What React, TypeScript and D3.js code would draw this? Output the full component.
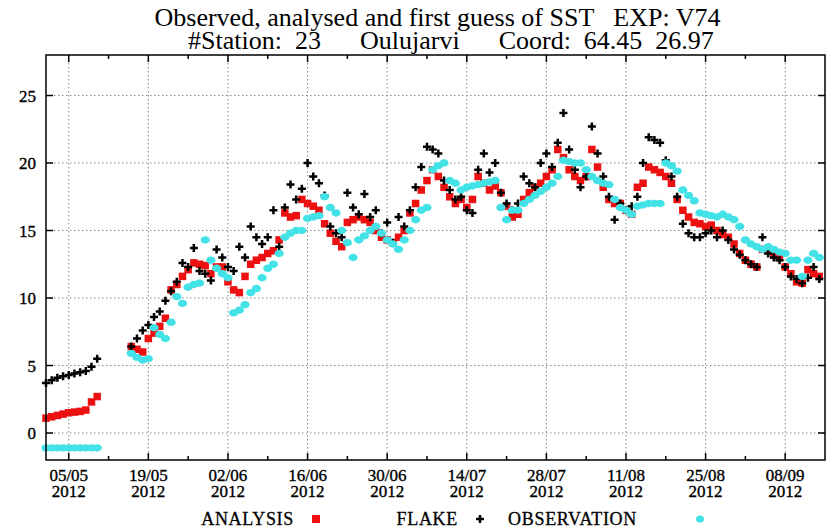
import React from "react";
import * as d3 from "d3";

const START = Date.UTC(2012, 4, 1);
const END = Date.UTC(2012, 8, 15);
const DAY = 86400000;

// values per day, starting 01/05/2012 (null = no data)
const analysis: (number | null)[] = [
  1.1, 1.2, 1.3, 1.4, 1.5, 1.55, 1.6, 1.7, 2.3, 2.7,
  null, null, null, null, null,
  6.4, 6.2, 6.0, 7.0, 7.4, 7.9, 8.5, 10.6, 11.0, 11.6,
  12.1, 12.6, 12.5, 12.4, 11.8, 12.3, 12.3, 11.2, 10.6, 10.4,
  11.6, 12.5, 12.8, 13.0, 13.3, 13.5, 14.3, 16.3, 16.0, 16.1,
  17.3, 17.0, 16.8, 16.5, 15.5, 14.8, 14.2, 13.8, 15.6, 15.8,
  16.0, 15.8, 15.6, 15.0, 14.5, 14.3, 14.1, 14.5, 15.0, 16.3,
  17.0, 18.0, 18.7, 19.5, 19.0, 18.2, 17.5, 17.0, 17.3, 16.7,
  17.3, 19.0, 18.5, 18.0, 18.3, 17.8, 16.8, 16.0, 16.2, 17.3,
  17.8, 18.2, 18.5, 19.0, 19.5, 21.0, 20.4, 19.5, 19.0, 18.7,
  19.0, 21.0, 19.7, 18.2, 17.3, 17.0, 17.0, 16.5, 16.2, 18.2,
  18.5, 19.7, 19.5, 19.3, 19.0, 18.5, 17.3, 16.5, 16.0, 15.6,
  15.5, 15.3, 15.4, 15.0, 14.7, 14.5, 14.0, 13.3, 12.8, 12.5,
  12.3, 13.6, 13.5, 13.2, 13.0, 12.3, 11.8, 11.2, 11.1, 12.1,
  11.8, 11.6,
];

const flake: (number | null)[] = [
  3.7, 3.9, 4.1, 4.2, 4.3, 4.4, 4.5, 4.6, 4.9, 5.5,
  null, null, null, null, null,
  6.4, 7.0, 7.6, 8.0, 8.6, 9.0, 9.8, 10.5, 11.2, 12.6,
  12.3, 13.7, 12.0, 11.8, 11.3, 13.6, 13.0, 12.3, 12.0, 13.8,
  13.0, 15.3, 14.5, 14.0, 14.5, 16.5, 13.8, 16.7, 18.4, 17.3,
  18.1, 20.0, 19.0, 18.5, 17.6, 15.3, 14.8, 14.5, 17.8, 16.7,
  16.2, 17.7, 16.0, 16.5, 14.8, 15.6, 14.1, 16.0, 15.3, 16.5,
  18.2, 19.7, 21.2, 21.0, 20.7, 18.7, 18.0, 17.3, 17.5, 16.5,
  16.3, 19.5, 20.7, 19.3, 20.0, 17.8, 17.0, 16.5, 17.0, 19.0,
  18.5, 18.2, 20.0, 20.7, 19.7, 21.5, 23.7, 21.0, 19.5, 18.2,
  19.0, 22.7, 20.7, 19.0, 17.5, 15.8, 17.0, 16.5, 16.8, 17.5,
  20.0, 21.9, 21.7, 21.5, 20.2, 19.0, 17.5, 15.5, 14.8, 14.5,
  14.5, 14.8, 15.0, 14.5, 15.0, 14.3, 13.6, 13.2, 12.8, 12.5,
  12.3, 14.5, 13.3, 13.0, 12.8, 12.3, 11.6, 11.4, 11.1, 11.5,
  12.3, 11.4,
];

const observation: (number | null)[] = [
  -1.1, -1.1, -1.1, -1.1, -1.1, -1.1, -1.1, -1.1, -1.1, -1.1,
  null, null, null, null, null,
  5.9, 5.6, 5.4, 5.5, 7.8, 7.3, 7.0, 8.2, 10.1, 9.6,
  10.8, 11.0, 11.1, 14.3, 12.8, 12.2, 11.8, 11.5, 8.9, 9.1,
  9.5, 10.4, 10.7, 11.5, 12.2, 12.5, 13.3, 14.5, 14.8, 15.0,
  15.0, 15.9, 16.0, 16.1, 17.5, 16.7, 16.3, 15.0, 14.1, 13.0,
  14.3, 14.6, 15.0, 15.3, 14.8, 14.3, 14.0, 13.6, 14.3, 15.0,
  15.8, 16.5, 16.7, 19.5, 19.8, 20.0, 18.7, 18.5, 18.0, 18.2,
  18.3, 18.4, 18.5, 18.6, 18.7, 16.7, 15.8, 16.5, 16.5, 17.0,
  17.3, 17.6, 17.9, 18.2, 18.5, 19.0, 20.2, 20.1, 20.0, 20.0,
  19.5, 19.0, 18.7, 18.5, 18.4, 17.3, 16.7, 16.5, 16.2, 16.8,
  16.9, 17.0, 17.0, 17.0, 20.0, 19.8, 19.4, 18.0, 17.6, 17.2,
  16.3, 16.2, 16.1, 16.0, 16.2, 16.0, 15.8, 15.3, 14.3, 14.0,
  13.8, 13.6, 13.8, 13.6, 13.4, 13.3, 12.8, 12.8, 11.6, 12.8,
  13.3, 13.0,
];

const yTicks = [0, 5, 10, 15, 20, 25];
const majorTickDates = [
  "2012-05-05", "2012-05-19", "2012-06-02", "2012-06-16", "2012-06-30",
  "2012-07-14", "2012-07-28", "2012-08-11", "2012-08-25", "2012-09-08",
];
const minorTickDates = [
  "2012-05-12", "2012-05-26", "2012-06-09", "2012-06-23", "2012-07-07",
  "2012-07-21", "2012-08-04", "2012-08-18", "2012-09-01",
];
const titleLine1 = "Observed, analysed and first guess of SST   EXP: V74";
const titleLine2 = "#Station:  23      Oulujarvi      Coord:  64.45  26.97";
const legendLabels = ["ANALYSIS", "FLAKE", "OBSERVATION"];

const W = 831, H = 529;
const M = { left: 46, right: 825, top: 55, bottom: 460 };
const RED = "#ec1010";
const CYAN = "#42e2e6";
const FONT = "'Liberation Serif', 'Times New Roman', serif";

export default function App() {
  const x = d3.scaleUtc().domain([new Date(START), new Date(END)]).range([M.left, M.right]);
  const y = d3.scaleLinear().domain([-2, 28]).range([M.bottom, M.top]);
  const fmtD = d3.utcFormat("%d/%m");
  const fmtY = d3.utcFormat("%Y");
  const parse = d3.utcParse("%Y-%m-%d");
  const majors = majorTickDates.map((s) => parse(s)!);
  const minors = minorTickDates.map((s) => parse(s)!);

  const pts = (arr: (number | null)[]) =>
    arr
      .map((v, i) => (v === null ? null : { d: new Date(START + i * DAY), v }))
      .filter((p): p is { d: Date; v: number } => p !== null);

  const plusPath = (cx: number, cy: number) =>
    `M${cx - 4},${cy}H${cx + 4}M${cx},${cy - 4}V${cy + 4}`;

  return (
    <svg width={W} height={H} style={{ position: "absolute", left: 0, top: 0, background: "#fff" }}
      fontFamily={FONT}>
      {/* title */}
      <text x={437.5} y={26} textAnchor="middle" fontSize={26} style={{ whiteSpace: "pre" }}>{titleLine1}</text>
      <text x={451} y={49} textAnchor="middle" fontSize={26} style={{ whiteSpace: "pre" }}>{titleLine2}</text>

      {/* grid */}
      <g stroke="#888" strokeWidth={1} strokeDasharray="1.5,2.5">
        {yTicks.map((t) => (
          <line key={"gy" + t} x1={M.left} x2={M.right} y1={y(t)} y2={y(t)} />
        ))}
        {majors.map((d, i) => (
          <line key={"gx" + i} x1={x(d)} x2={x(d)} y1={M.top} y2={M.bottom} />
        ))}
      </g>

      {/* ticks */}
      <g stroke="#000" strokeWidth={1.5}>
        {yTicks.map((t) => (
          <g key={"ty" + t}>
            <line x1={M.left} x2={M.left + 7} y1={y(t)} y2={y(t)} />
            <line x1={M.right - 7} x2={M.right} y1={y(t)} y2={y(t)} />
          </g>
        ))}
        {majors.map((d, i) => (
          <g key={"tx" + i}>
            <line x1={x(d)} x2={x(d)} y1={M.bottom} y2={M.bottom - 7} />
            <line x1={x(d)} x2={x(d)} y1={M.top} y2={M.top + 7} />
          </g>
        ))}
        {minors.map((d, i) => (
          <g key={"tm" + i}>
            <line x1={x(d)} x2={x(d)} y1={M.bottom} y2={M.bottom - 4} />
            <line x1={x(d)} x2={x(d)} y1={M.top} y2={M.top + 4} />
          </g>
        ))}
      </g>

      {/* tick labels */}
      <g fontSize={17} fill="#000" stroke="#000" strokeWidth={0.35}>
        {yTicks.map((t) => (
          <text key={"ly" + t} x={M.left - 10} y={y(t) + 6} textAnchor="end">{t}</text>
        ))}
        {majors.map((d, i) => (
          <g key={"lx" + i}>
            <text x={x(d)} y={481} textAnchor="middle">{fmtD(d)}</text>
            <text x={x(d)} y={497} textAnchor="middle">{fmtY(d)}</text>
          </g>
        ))}
      </g>

      {/* data */}
      <g fill={RED}>
        {pts(analysis).map((p, i) => (
          <rect key={"a" + i} x={x(p.d) - 3.75} y={y(p.v) - 3.75} width={7.5} height={7.5} />
        ))}
      </g>
      <g stroke="#000" strokeWidth={2.5} fill="none">
        {pts(flake).map((p, i) => (
          <path key={"f" + i} d={plusPath(x(p.d), y(p.v))} />
        ))}
      </g>
      <g fill={CYAN}>
        {pts(observation).map((p, i) => (
          <ellipse key={"o" + i} cx={x(p.d)} cy={y(p.v)} rx={4.6} ry={3.7} />
        ))}
      </g>

      {/* frame */}
      <rect x={M.left} y={M.top} width={M.right - M.left} height={M.bottom - M.top}
        fill="none" stroke="#000" strokeWidth={1.5} />

      {/* legend */}
      <g fontSize={18} fill="#000" stroke="#000" strokeWidth={0.3} letterSpacing={0.7}>
        <text x={294} y={524.5} textAnchor="end">{legendLabels[0]}</text>
        <text x={458} y={524.5} textAnchor="end">{legendLabels[1]}</text>
        <text x={637} y={524.5} textAnchor="end">{legendLabels[2]}</text>
      </g>
      <rect x={312} y={515} width={8} height={8} fill={RED} />
      <path d={plusPath(480, 519)} stroke="#000" strokeWidth={2.5} />
      <ellipse cx={700} cy={519} rx={4} ry={3.5} fill={CYAN} />
    </svg>
  );
}
